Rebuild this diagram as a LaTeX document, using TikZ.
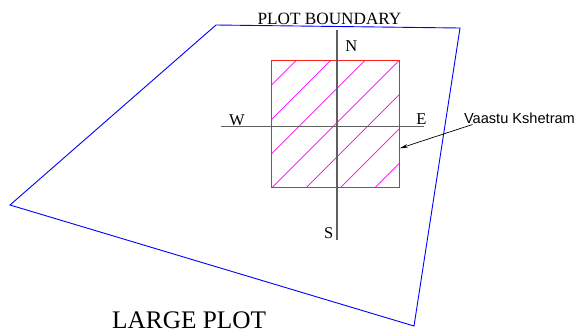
\documentclass[tikz,border=0pt]{standalone}
\usepackage{fontspec}
\setmainfont{Liberation Serif}
\newfontfamily\labelsans{Liberation Sans}
\usetikzlibrary{arrows.meta}
\definecolor{plotblue}{RGB}{0,0,255}
\definecolor{sqred}{RGB}{255,30,30}
\definecolor{hatchmag}{RGB}{255,0,255}
\definecolor{axisgray}{RGB}{95,95,95}
\tikzset{
  boundary/.style={draw=plotblue,line width=0.9pt,line join=miter},
  kshetra/.style={draw=sqred,line width=0.9pt},
  hatchline/.style={draw=hatchmag,line width=0.7pt},
  axisline/.style={draw=axisgray,line width=1.3pt},
  dirlabel/.style={font=\fontsize{16.5}{18}\selectfont,inner sep=0pt,anchor=base},
  pointer/.style={draw=black,line width=0.7pt,-{Stealth[length=8pt,width=3.6pt]}}
}
\begin{document}
\begin{tikzpicture}[x=1pt,y=-1pt]
\useasboundingbox (0,0) rectangle (577,333);
% plot boundary
\coordinate (tl) at (216,25);
\coordinate (tr) at (460,28);
\coordinate (br) at (414,326);
\coordinate (lf) at (10,205);
\draw[boundary] (tl) -- (tr) -- (br) -- (lf) -- cycle;
% hatching
\begin{scope}
\clip (271.5,60.7) rectangle (399.5,187.3);
\foreach \c in {356.7,391,425.3,459.6,493.9,528.2,562.5}{
  \draw[hatchline] (\c-200,200) -- (\c-40,40);
}
\end{scope}
% vaastu kshetram square
\draw[kshetra] (271.5,60.7) rectangle (399.5,187.3);
\coordinate (sqE) at (399.8,148.3);
% axes
\coordinate (axN) at (337,30);
\coordinate (axS) at (337,240);
\coordinate (axW) at (220.7,126.7);
\coordinate (axE) at (424,126.7);
\draw[axisline] (axN) -- (axS);
\draw[axisline] (axW) -- (axE);
% labels
\node[dirlabel] (lblN) at (351.4,51) {N};
\node[dirlabel] (lblW) at (237,125) {W};
\node[dirlabel] (lblE) at (421.3,124.3) {E};
\node[dirlabel] (lblS) at (328.8,238) {S};
\node[font=\fontsize{17.2}{19}\selectfont,inner sep=0pt,anchor=base] (pb) at (329.5,24) {PLOT BOUNDARY};
\node[font=\fontsize{25.3}{28}\selectfont,inner sep=0pt,anchor=base west] (lp) at (112,328) {LARGE PLOT};
\node[font=\labelsans\fontsize{14.6}{16}\selectfont,inner sep=0pt,anchor=base west] (vk) at (463.8,123.3) {Vaastu Kshetram};
\coordinate (arrStart) at (472.5,124.5);
\draw[pointer] (arrStart) -- (sqE);
\end{tikzpicture}
\end{document}
